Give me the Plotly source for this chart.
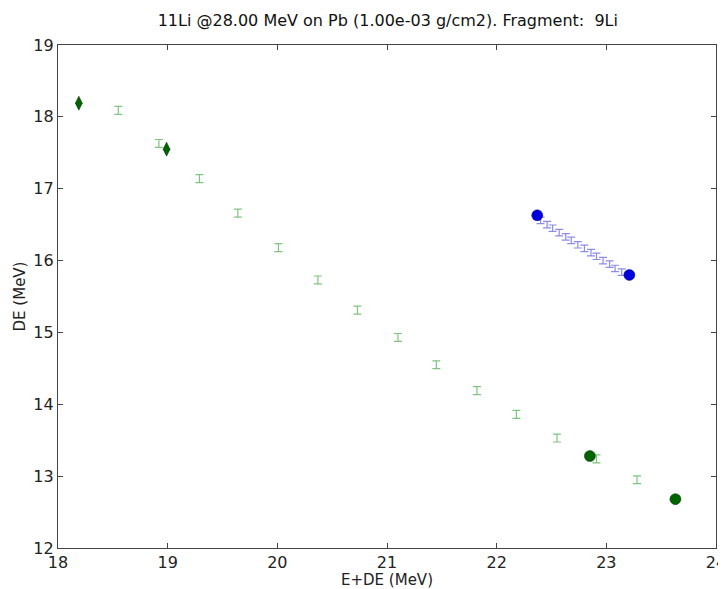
import plotly.graph_objects as go

# Green error-bar series (light green)
green_x = [18.55, 18.92, 19.29, 19.64, 20.01, 20.37, 20.73, 21.10, 21.45, 21.82, 22.18, 22.55, 22.91, 23.28]
green_y = [18.09, 17.63, 17.14, 16.66, 16.18, 15.73, 15.31, 14.93, 14.55, 14.19, 13.86, 13.53, 13.24, 12.95]
green_err = [0.055] * 14

# Blue error-bar series (light blue)
blue_x = [22.40, 22.46, 22.51, 22.57, 22.63, 22.68, 22.74, 22.80, 22.86, 22.91, 22.97, 23.03, 23.08, 23.14]
blue_y = [16.56, 16.50, 16.45, 16.39, 16.33, 16.28, 16.22, 16.17, 16.11, 16.06, 16.00, 15.95, 15.89, 15.84]
blue_err = [0.045] * 14

# Dark green diamonds
dia_x = [18.19, 18.99]
dia_y = [18.19, 17.55]
# Dark green circles
gc_x = [22.85, 23.63]
gc_y = [13.28, 12.68]
# Blue circles
bc_x = [22.37, 23.21]
bc_y = [16.63, 15.80]

title = "11Li @28.00 MeV on Pb (1.00e-03 g/cm2). Fragment:  9Li"
font = "DejaVu Sans"

fig = go.Figure()
hidden = dict(size=1, color="rgba(0,0,0,0)")
fig.add_trace(go.Scatter(x=green_x, y=green_y, mode="markers", marker=hidden,
                         error_y=dict(type="data", array=green_err, color="#7fc47f", thickness=1.2, width=4)))
fig.add_trace(go.Scatter(x=blue_x, y=blue_y, mode="markers", marker=hidden,
                         error_y=dict(type="data", array=blue_err, color="#8c8ce6", thickness=1.2, width=4)))
fig.add_trace(go.Scatter(x=dia_x, y=dia_y, mode="markers",
                         marker=dict(symbol="diamond-tall", size=10, color="#006400",
                                     line=dict(width=0.5, color="#003000"))))
fig.add_trace(go.Scatter(x=gc_x, y=gc_y, mode="markers",
                         marker=dict(symbol="circle", size=11, color="#006400",
                                     line=dict(width=0.5, color="#003000"))))
fig.add_trace(go.Scatter(x=bc_x, y=bc_y, mode="markers",
                         marker=dict(symbol="circle", size=11, color="#0000dd",
                                     line=dict(width=0.5, color="#000080"))))

axis_common = dict(showgrid=False, zeroline=False, showline=True, linecolor="#444",
                   linewidth=1.3, mirror="ticks", ticks="inside", ticklen=5,
                   tickcolor="#444", tickwidth=1, automargin=False,
                   ticklabeloverflow="allow",
                   tickfont=dict(family=font, size=16, color="#222"))

# page body has an 8px margin, so the figure is sized/offset to land on the reference pixels
fig.update_layout(
    width=718, height=581,
    margin=dict(l=50, r=10, t=37, b=41, autoexpand=False),
    paper_bgcolor="white", plot_bgcolor="white",
    showlegend=False,
    title=dict(text=title, x=0.529, xanchor="center", y=1 - 12 / 581, yanchor="middle",
               font=dict(family=font, size=16, color="#111")),
    xaxis=dict(range=[18, 24], dtick=1,
               title=dict(text="E+DE (MeV)", standoff=0, font=dict(family=font, size=15, color="#222")),
               **axis_common),
    yaxis=dict(range=[12, 19], dtick=1,
               title=dict(text="DE (MeV)", standoff=4, font=dict(family=font, size=15, color="#222")),
               **axis_common),
)

fig.write_html("out.html")
